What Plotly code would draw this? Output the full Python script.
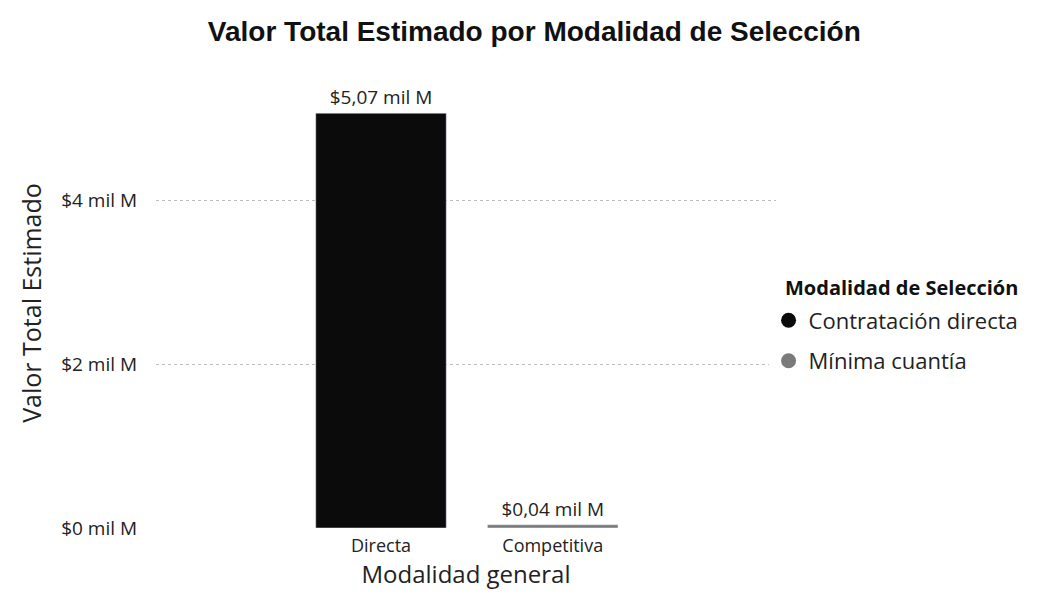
import plotly.graph_objects as go

categories = ["Directa", "Competitiva"]
series_names = ["Contratación directa", "Mínima cuantía"]
values = [5.07, 0.04]
value_labels = ["$5,07 mil M", "$0,04 mil M"]
colors = ["#0b0b0b", "#7a7a7a"]
tick_vals = [0, 2, 4]
tick_text = ["$0 mil M", "$2 mil M", "$4 mil M"]
legend_title = "Modalidad de Selección"

FONT = "Segoe UI, Open Sans, Noto Sans, sans-serif"

fig = go.Figure()
for i, (cat, name, val, lab, col) in enumerate(zip(categories, series_names, values, value_labels, colors)):
    fig.add_trace(go.Bar(
        x=[cat], y=[val], name=name, marker_color=col, width=0.76,
        text=[lab], textposition="outside", cliponaxis=False,
        textfont=dict(family=FONT, size=19, color="#222"),
        showlegend=False,
    ))
    fig.add_trace(go.Scatter(
        x=[None], y=[None], mode="markers", name=name,
        marker=dict(symbol="circle", size=15, color=col),
        legendgroup=f"g{i}", showlegend=True,
    ))

fig.update_layout(
    width=1059, height=600,
    paper_bgcolor="white", plot_bgcolor="white",
    margin=dict(l=148, r=291, t=70, b=80),
    title=dict(text="<b>Valor Total Estimado por Modalidad de Selección</b>",
               x=0.497, xanchor="center", y=0.962, yanchor="middle",
               font=dict(family="Liberation Sans Narrow, Arial Narrow, Liberation Sans, Arial", size=28, color="#111")),
    font=dict(family=FONT, color="#222"),
    barmode="overlay",
    legend=dict(
        x=0.988, xanchor="left", y=0.508, yanchor="top",
        font=dict(family=FONT, size=22, color="#222"),
        tracegroupgap=9, itemwidth=30,
    ),
    xaxis=dict(
        type="category", categoryorder="array", categoryarray=categories,
        range=[-1.31, 2.30], showgrid=False, showline=False, zeroline=False,
        tickfont=dict(family=FONT, size=18, color="#222"), ticks="", ticklabelstandoff=5,
        title=dict(text="Modalidad general", font=dict(family=FONT, size=24, color="#222"), standoff=9),
    ),
    yaxis=dict(
        range=[0, 5.5], tickvals=tick_vals, ticktext=tick_text,
        showgrid=True, gridcolor="#bdbdbd", griddash="dot", gridwidth=1,
        zeroline=False, showline=False, ticks="",
        tickfont=dict(family=FONT, size=19, color="#222"), ticklabelstandoff=18,
        title=dict(text="Valor Total Estimado", font=dict(family=FONT, size=25, color="#222"), standoff=12),
    ),
)

fig.add_annotation(
    text=f"<b>{legend_title}</b>", xref="paper", yref="paper",
    x=(775 - 148) / 620, xanchor="left", y=(527 - 286) / 450, yanchor="middle",
    showarrow=False, font=dict(family=FONT, size=20, color="#111"),
)

fig.write_html("out.html")
